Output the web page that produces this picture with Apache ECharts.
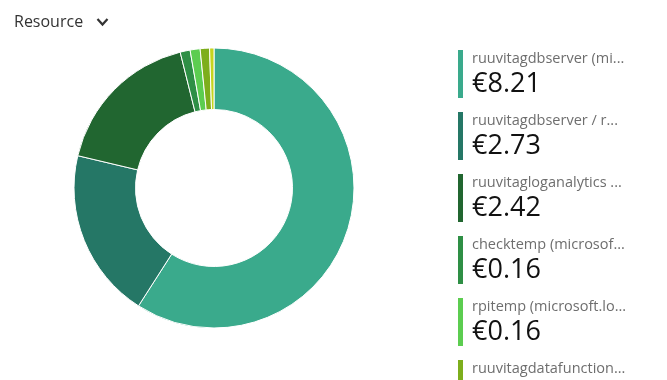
<!DOCTYPE html>
<html>
<head>
<meta charset="utf-8">
<script src="https://cdn.jsdelivr.net/npm/echarts@6/dist/echarts.min.js"></script>
<style>
html,body{margin:0;padding:0;background:#fff;}
#chart{width:667px;height:380px;}
</style>
</head>
<body>
<div id="chart"></div>
<script>
const names = [
  'ruuvitagdbserver (mi...',
  'ruuvitagdbserver / r...',
  'ruuvitagloganalytics ...',
  'checktemp (microsof...',
  'rpitemp (microsoft.lo...',
  'ruuvitagdatafunction...',
  'other'
];
const values = [8.21, 2.73, 2.42, 0.16, 0.16, 0.15, 0.07];
const colors = ['#3aaa8c', '#257766', '#216630', '#2e8f45', '#5ccd50', '#7dae1c', '#c5d41e'];
const headerText = 'Resource';

const FONT = '"Open Sans", "Noto Sans", sans-serif';
const valueByName = {};
names.forEach((n, i) => { valueByName[n] = values[i]; });

const chart = echarts.init(document.getElementById('chart'));
chart.setOption({
  backgroundColor: '#fff',
  animation: false,
  color: colors,
  title: {
    text: headerText,
    left: 9,
    top: 9,
    textStyle: { fontFamily: FONT, fontSize: 16, fontWeight: 'normal', color: '#333' }
  },
  graphic: [{
    type: 'polyline',
    shape: { points: [[97.5, 19], [102.5, 24.5], [107.5, 19]] },
    style: { stroke: '#333', lineWidth: 2.2, fill: null }
  }],
  legend: {
    orient: 'vertical',
    left: 456,
    top: 48,
    height: 1000,
    padding: 0,
    icon: 'rect',
    itemWidth: 7,
    itemHeight: 50,
    itemGap: 10,
    selectedMode: false,
    formatter: function (name) {
      return '{n|' + name + '}\n{v|€' + valueByName[name].toFixed(2) + '}';
    },
    textStyle: {
      padding: [0, 0, 0, 3],
      rich: {
        n: { fontFamily: FONT, fontSize: 14.5, color: '#6e6e6e', lineHeight: 20 },
        v: { fontFamily: FONT, fontSize: 27, color: '#111', lineHeight: 30 }
      }
    }
  },
  series: [{
    type: 'pie',
    center: [214, 188],
    radius: [78.5, 140],
    startAngle: 90,
    clockwise: true,
    label: { show: false },
    labelLine: { show: false },
    emphasis: { disabled: true },
    itemStyle: { borderColor: '#fff', borderWidth: 1 },
    data: names.map((n, i) => ({ name: n, value: values[i] }))
  }]
});
</script>
</body>
</html>
